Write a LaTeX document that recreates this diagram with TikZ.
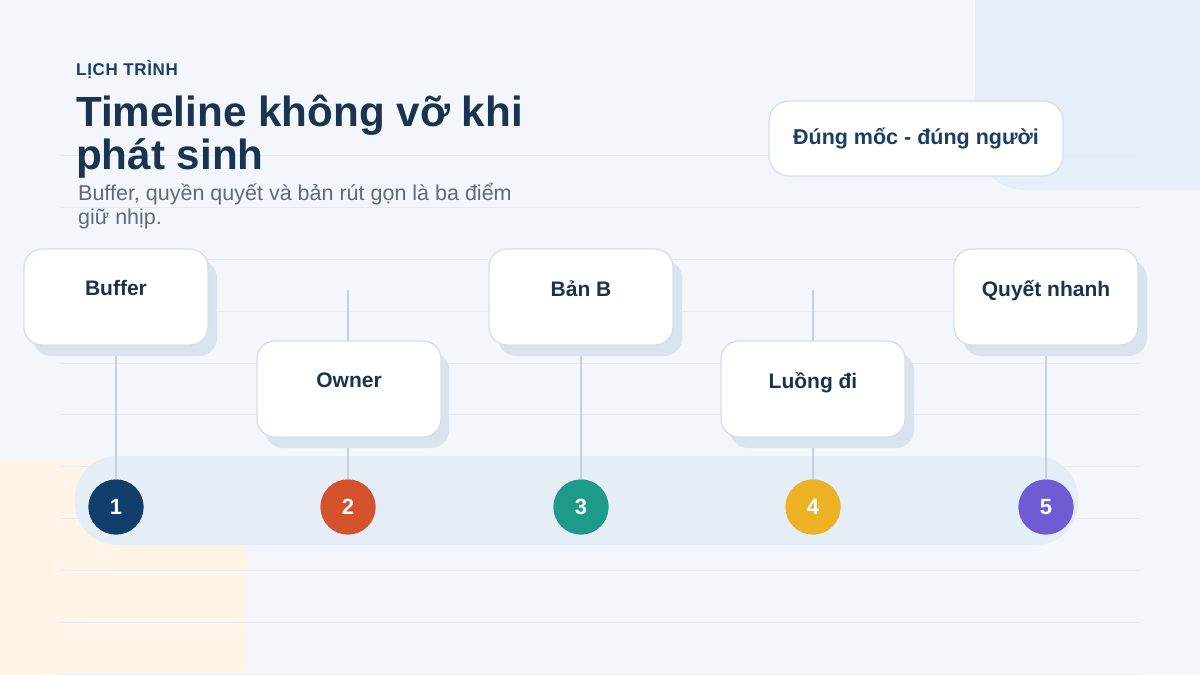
\documentclass[tikz,border=0pt]{standalone}
\usepackage{fontspec}
\setmainfont{Liberation Sans}
\usetikzlibrary{positioning}
\definecolor{bgpage}{HTML}{F3F7FB}
\definecolor{bgblue}{HTML}{E5EFFA}
\definecolor{bgsand}{HTML}{FFF4E5}
\definecolor{gridline}{HTML}{E6ECF2}
\definecolor{trackfill}{HTML}{E5EEF7}
\definecolor{navy}{HTML}{1A3350}
\definecolor{kicker}{HTML}{1C3D66}
\definecolor{subgray}{HTML}{5F6B7A}
\definecolor{cardedge}{HTML}{D5E0EC}
\definecolor{cardshade}{HTML}{DBE4EE}
\definecolor{stemgray}{HTML}{C6D1DD}
\definecolor{dotA}{HTML}{123E6B}
\definecolor{dotB}{HTML}{D4532D}
\definecolor{dotC}{HTML}{1E9A8A}
\definecolor{dotD}{HTML}{EDB126}
\definecolor{dotE}{HTML}{6F5BD3}
\tikzset{card/.style={draw=cardedge,line width=1.3pt,fill=white,rounded corners=18pt,minimum width=184pt,minimum height=96pt,inner sep=0pt},
         shade/.style={fill=cardshade,rounded corners=18pt,minimum width=184pt,minimum height=96pt,inner sep=0pt},
         cardtext/.style={font=\bfseries\fontsize{21}{25}\selectfont,text=navy,inner sep=0pt},
         stem/.style={draw=stemgray,line width=2.5pt},
         dot/.style={circle,minimum size=55pt,inner sep=0pt,text=white,font=\bfseries\fontsize{22}{26}\selectfont},
        }

\begin{document}
\begin{tikzpicture}[x=1pt,y=-1pt]
        \useasboundingbox (0,0) rectangle (1200,675);
        \fill[bgpage](0,0)rectangle(1200,675);
        \fill[bgblue,rounded corners=50pt](975,-60)--(975,190)--(1260,190)--(1260,-60)--cycle;
        \fill[bgsand](0,460)rectangle(246,675);
        \foreach \gy in {155,207,259,311,363,414,466,518,570,622,674}
          \draw[gridline,line width=0.8pt](60,\gy)--(1140,\gy);

        % heading
        \node[anchor=base west,inner sep=0pt,text=kicker,font=\bfseries\fontsize{17}{20}\selectfont\addfontfeature{LetterSpace=4}](kick)at(76,75.5){LỊCH TRÌNH};
        \node[anchor=base west,inner sep=0pt,text=navy,font=\bfseries\fontsize{42.2}{43}\selectfont,align=left](title)at(76,169){Timeline không vỡ khi\\phát sinh};
        \node[anchor=base west,inner sep=0pt,text=subgray,font=\fontsize{21.5}{24}\selectfont,align=left](sub)at(78,224){Buffer, quyền quyết và bản rút gọn là ba điểm\\giữ nhịp.};
        \node[draw=cardedge,line width=1.3pt,fill=white,rounded corners=20pt,minimum width=294pt,minimum height=75pt,text=kicker,font=\bfseries\fontsize{21.5}{25}\selectfont](badge)at(916,138.5){Đúng mốc - đúng người};

        % track
        \node[fill=trackfill,rounded corners=42pt,minimum width=1003pt,minimum height=89pt,inner sep=0pt](track)at(576.5,500.5){};

        % stems
        \coordinate(s1)at(116,290);
        \coordinate(s2)at(348,290);
        \coordinate(s3)at(581,290);
        \coordinate(s4)at(813,290);
        \coordinate(s5)at(1046,290);
        \node[dot,fill=dotA](n1)at(116,507){};
        \node[dot,fill=dotB](n2)at(348,507){};
        \node[dot,fill=dotC](n3)at(581,507){};
        \node[dot,fill=dotD](n4)at(813,507){};
        \node[dot,fill=dotE](n5)at(1046,507){};
        \draw[stem](s1)--(n1.center);
        \draw[stem](s2)--(n2.center);
        \draw[stem](s3)--(n3.center);
        \draw[stem](s4)--(n4.center);
        \draw[stem](s5)--(n5.center);

        % cards
        \node[shade](h1)at(125,308){};
        \node[shade](h2)at(357,400){};
        \node[shade](h3)at(590,308){};
        \node[shade](h4)at(822,400){};
        \node[shade](h5)at(1055,308){};
        \node[card](c1)at(116,297){};
        \node[card](c2)at(349,389){};
        \node[card](c3)at(581,297){};
        \node[card](c4)at(813,389){};
        \node[card](c5)at(1046,297){};
        \node[cardtext,below=32pt of c1.north]{Buffer};
        \node[cardtext,below=32pt of c2.north]{Owner};
        \node[cardtext,below=32pt of c3.north]{Bản B};
        \node[cardtext,below=32pt of c4.north]{Luồng đi};
        \node[cardtext,below=32pt of c5.north]{Quyết nhanh};

        % numbers
        \node[dot,fill=dotA]at(n1){1};
        \node[dot,fill=dotB]at(n2){2};
        \node[dot,fill=dotC]at(n3){3};
        \node[dot,fill=dotD]at(n4){4};
        \node[dot,fill=dotE]at(n5){5};
    \end{tikzpicture}
\end{document}
